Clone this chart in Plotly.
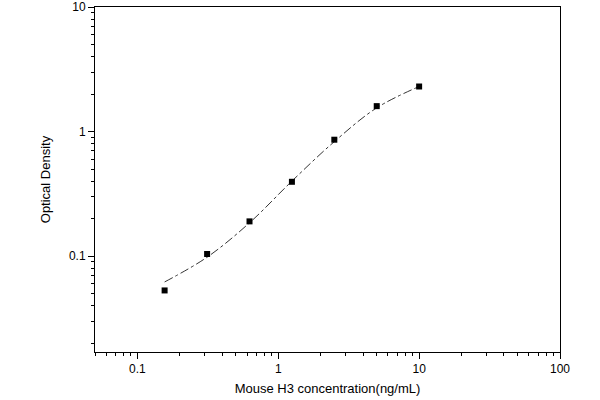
import plotly.graph_objects as go

conc = [0.156, 0.3125, 0.625, 1.25, 2.5, 5, 10]
od = [0.053, 0.104, 0.19, 0.395, 0.86, 1.6, 2.3]
curve_x = [0.156, 0.3125, 0.625, 1.25, 2.5, 5, 10]
curve_y = [0.062, 0.098, 0.185, 0.40, 0.83, 1.55, 2.3]
xticks = [0.1, 1, 10, 100]
yticks = [0.1, 1, 10]
xminor = [m * 10 ** e for e in (-2, -1, 0, 1) for m in range(2, 10) if 0.05 <= m * 10 ** e <= 100]
yminor = [m * 10 ** e for e in (-2, -1, 0) for m in range(2, 10) if 0.017 <= m * 10 ** e <= 10]

fig = go.Figure()
fig.add_trace(go.Scatter(x=curve_x, y=curve_y, mode="lines", line_shape="spline",
                         line=dict(color="black", width=0.8, dash="dashdot"), hoverinfo="skip"))
fig.add_trace(go.Scatter(x=conc, y=od, mode="markers",
                         marker=dict(symbol="square", size=6, color="black")))
axis_common = dict(type="log", showgrid=False, zeroline=False, showline=True, linecolor="black",
                   linewidth=1, mirror=True, ticks="outside", ticklen=6, tickcolor="black",
                   automargin=False, tickfont=dict(size=12, color="black"))
fig.update_xaxes(range=[-1.301, 2], tickvals=xticks, ticktext=["0.1", "1", "10", "100"],
                 minor=dict(ticks="outside", ticklen=3, tickcolor="black", tickvals=xminor),
                 title=dict(text="Mouse H3 concentration(ng/mL)", font=dict(size=13, color="black"),
                            standoff=8),
                 **axis_common)
fig.update_yaxes(range=[-1.77, 1], tickvals=yticks, ticktext=["0.1", "1", "10"],
                 minor=dict(ticks="outside", ticklen=3, tickcolor="black", tickvals=yminor),
                 title=dict(text="Optical Density", font=dict(size=13, color="black")),
                 **axis_common)
fig.update_layout(width=600, height=400, margin=dict(l=95, r=40, t=7, b=48),
                  paper_bgcolor="white", plot_bgcolor="white", showlegend=False,
                  font=dict(family="Liberation Sans, Arial, sans-serif"))
fig.write_html("out.html", config={"displayModeBar": False},
               post_script="document.body.style.margin='0';")
